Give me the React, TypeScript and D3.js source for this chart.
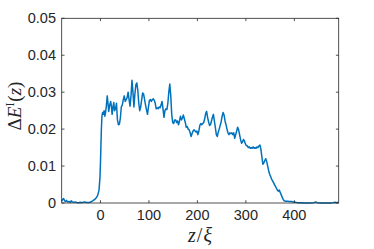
import React from 'react';
import * as d3 from 'd3';

// position along the line, z / xi
const zValues = [
  -80, -78, -76, -74, -72, -70, -68, -65, -62, -60, -58, -55, -52, -48, -45, -42, -38, -34, -30, -26, -22, -18, -14, -10, -6, -3, -1,
  0, 1, 2, 3, 4.5, 6, 7.5, 9, 10.5, 12, 14, 15.5, 17, 19, 21, 22.5, 24, 26, 27.5, 29, 31, 33, 35, 37, 39,
  41, 43, 45, 47, 49, 51, 53, 55, 57, 59, 61, 63, 65, 67, 69, 71, 73, 75, 77, 79, 81, 83, 85, 87, 89, 91, 93, 95, 97, 99,
  101, 103, 105, 107, 109, 111, 113, 115, 117, 119, 121, 123, 125, 127, 129, 131, 133, 135, 137, 139, 141, 143, 145, 147, 149,
  151, 153, 155, 157, 159, 161, 163, 165, 167, 169, 171, 173, 175, 177, 179, 181, 183, 185, 187, 189, 191, 193, 195, 197, 199,
  201, 203, 205, 207, 209, 211, 213, 215, 217, 219, 221, 223, 225, 227, 229, 231, 233, 235, 237, 239, 241, 243, 245, 247, 249,
  251, 253, 255, 257, 259, 261, 263, 265, 267, 269, 271, 273, 275, 277, 279, 281, 283, 285, 287, 289, 291, 293, 295, 297, 299,
  301, 303, 305, 307, 309, 311, 313, 315, 317, 319, 321, 323, 325, 327, 329, 331, 333, 335, 337, 339, 341, 343, 345, 347, 349,
  351, 353, 355, 357, 359, 361, 363, 365, 367, 369, 371, 373, 375, 377, 379, 382, 386, 390, 394, 398,
  402, 406, 412, 420, 430, 440, 444, 447, 455, 465, 475, 480, 484, 487, 490,
];

// Delta E^I(z)
const deltaE = [
  0.0005, 0.0010, 0.0012, 0.0006, 0.0004, 0.0007, 0.0003, 0.0004, 0.0002, 0.0006, 0.0003, 0.0002, 0.0003, 0.0001, 0.0001, 0.0002, 0.0001, 0.0003, 0.0002, 0.0001, 0.0002, 0.0004, 0.0008, 0.0012, 0.0020, 0.0035, 0.0070,
  0.0110, 0.0160, 0.0205, 0.0235, 0.0245, 0.0240, 0.0250, 0.0235, 0.0245, 0.0262, 0.0290, 0.0270, 0.0248, 0.0265, 0.0275, 0.0262, 0.0240, 0.0262, 0.0272, 0.0250, 0.0255, 0.0270, 0.0225, 0.0212, 0.0213,
  0.0230, 0.0260, 0.0265, 0.0280, 0.0290, 0.0275, 0.0280, 0.0285, 0.0300, 0.0280, 0.0262, 0.0290, 0.0332, 0.0300, 0.0260, 0.0295, 0.0320, 0.0325, 0.0305, 0.0270, 0.0250, 0.0260, 0.0280, 0.0298, 0.0295, 0.0280, 0.0265, 0.0252, 0.0240, 0.0260,
  0.0278, 0.0280, 0.0275, 0.0280, 0.0282, 0.0278, 0.0270, 0.0255, 0.0258, 0.0255, 0.0260, 0.0258, 0.0265, 0.0275, 0.0255, 0.0232, 0.0250, 0.0255, 0.0253, 0.0270, 0.0300, 0.0322, 0.0290, 0.0240, 0.0218,
  0.0215, 0.0225, 0.0225, 0.0218, 0.0222, 0.0212, 0.0222, 0.0235, 0.0225, 0.0230, 0.0238, 0.0228, 0.0218, 0.0205, 0.0207, 0.0200, 0.0198, 0.0190, 0.0180, 0.0188, 0.0195, 0.0198, 0.0195, 0.0192, 0.0195,
  0.0185, 0.0195, 0.0210, 0.0215, 0.0212, 0.0215, 0.0218, 0.0228, 0.0242, 0.0248, 0.0232, 0.0220, 0.0210, 0.0212, 0.0222, 0.0232, 0.0240, 0.0222, 0.0205, 0.0185, 0.0180, 0.0192, 0.0200, 0.0210, 0.0220,
  0.0235, 0.0245, 0.0238, 0.0222, 0.0212, 0.0200, 0.0190, 0.0185, 0.0190, 0.0188, 0.0190, 0.0185, 0.0190, 0.0175, 0.0185, 0.0195, 0.0205, 0.0198, 0.0185, 0.0172, 0.0162, 0.0165, 0.0172, 0.0168, 0.0160,
  0.0155, 0.0155, 0.0150, 0.0152, 0.0148, 0.0150, 0.0148, 0.0152, 0.0148, 0.0150, 0.0148, 0.0152, 0.0150, 0.0155, 0.0157, 0.0145, 0.0125, 0.0105, 0.0108, 0.0115, 0.0120, 0.0112, 0.0100, 0.0088, 0.0078,
  0.0072, 0.0065, 0.0060, 0.0055, 0.0050, 0.0045, 0.0040, 0.0035, 0.0032, 0.0035, 0.0028, 0.0022, 0.0015, 0.0010, 0.0006, 0.0005, 0.0005, 0.0004, 0.0004, 0.0003,
  0.0002, 0.0001, 0.0001, 0.0000, 0.0000, 0.0001, 0.0003, 0.0001, 0.0000, 0.0000, 0.0000, 0.0001, 0.0002, 0.0001, 0.0002,
];

const xTicks = [0, 100, 200, 300, 400];
const yTicks = [0, 0.01, 0.02, 0.03, 0.04, 0.05];
const yTickLabels = ['0', '0.01', '0.02', '0.03', '0.04', '0.05'];

const W = 374, H = 249;
const left = 61.7, right = 338.7, top = 18.3, bottom = 203;
const axisColor = '#262626';
const tickFont = '"Liberation Sans", Arial, sans-serif';
const mathFont = '"Liberation Serif", "DejaVu Serif", serif';

export default function App() {
  const x = d3.scaleLinear().domain([-80, 491.5]).range([left, right]);
  const y = d3.scaleLinear().domain([0, 0.05]).range([bottom, top]);

  const pts: [number, number][] = zValues.map((z, i) => [z, deltaE[i]]);
  const line = d3.line<[number, number]>()
    .x(d => x(d[0]))
    .y(d => y(d[1]));

  const tickLen = 2.8;

  return (
    <svg width={W} height={H} style={{ position: 'absolute', left: 0, top: 0, background: '#fff' }}>
      <path d={line(pts) || ''} fill="none" stroke="#0072BD" strokeWidth={1.5} strokeLinejoin="round" />

      {/* box */}
      <rect x={left} y={top} width={right - left} height={bottom - top}
        fill="none" stroke={axisColor} strokeWidth={0.8} />

      {xTicks.map(t => (
        <g key={'x' + t}>
          <line x1={x(t)} x2={x(t)} y1={bottom} y2={bottom - tickLen} stroke={axisColor} strokeWidth={0.8} />
          <line x1={x(t)} x2={x(t)} y1={top} y2={top + tickLen} stroke={axisColor} strokeWidth={0.8} />
          <text x={x(t)} y={220} textAnchor="middle" fontFamily={tickFont} fontSize={14.5} fill={axisColor}>{t}</text>
        </g>
      ))}

      {yTicks.map((t, i) => (
        <g key={'y' + t}>
          <line x1={left} x2={left + tickLen} y1={y(t)} y2={y(t)} stroke={axisColor} strokeWidth={0.8} />
          <line x1={right} x2={right - tickLen} y1={y(t)} y2={y(t)} stroke={axisColor} strokeWidth={0.8} />
          <text x={56} y={y(t) + 5} textAnchor="end" fontFamily={tickFont} fontSize={14.5} fill={axisColor}>{yTickLabels[i]}</text>
        </g>
      ))}

      <text x={200} y={242} textAnchor="middle" fontFamily={mathFont} fontSize={20} fill={axisColor}>
        <tspan fontStyle="italic">z</tspan>
        <tspan dx={1}>/</tspan>
        <tspan dx={1} fontStyle="italic">ξ</tspan>
      </text>

      <text transform="translate(21,106) rotate(-90)" textAnchor="middle" fontFamily={mathFont} fontSize={19} fill={axisColor}>
        <tspan>Δ</tspan>
        <tspan fontStyle="italic">E</tspan>
        <tspan fontSize={12} dy={-7}>I</tspan>
        <tspan dx={1} dy={7}>(</tspan>
        <tspan fontStyle="italic">z</tspan>
        <tspan>)</tspan>
      </text>
    </svg>
  );
}
